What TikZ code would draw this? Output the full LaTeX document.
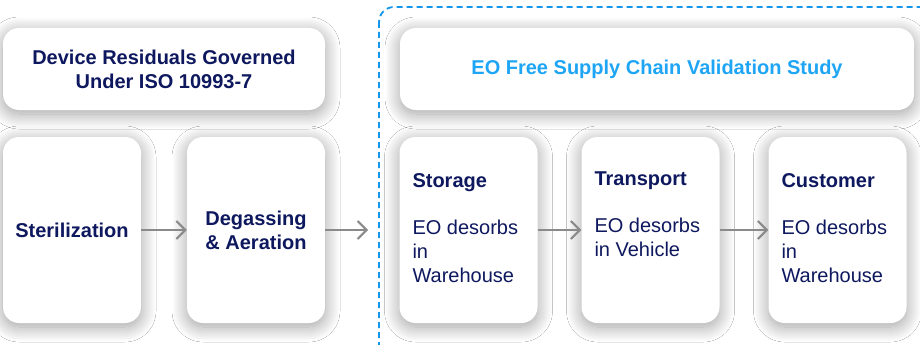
\documentclass[tikz,border=0pt]{standalone}
\usepackage{fontspec}
\setmainfont{Liberation Sans}
\usepackage{tikz}
\usetikzlibrary{arrows.meta,shadows.blur}
\definecolor{navy}{RGB}{14,24,94}
\definecolor{skyblue}{RGB}{30,165,245}
\definecolor{dashblue}{RGB}{20,150,235}
\definecolor{arrowgray}{RGB}{138,138,138}

\begin{document}
\begin{tikzpicture}[x=1pt,y=-1pt]
		\useasboundingbox (0,0) rectangle (920,345);
		\clip (0,0) rectangle (920,345);
		\fill[white] (0,0) rectangle (920,345);

		% dashed frame of the study
		\draw[dashblue, line width=1.8pt, dash pattern=on 6pt off 4pt, rounded corners=15pt]
		    (379,7) rectangle (940,365);

		\begin{scope}[every node/.style={fill=white,rounded corners=16pt,inner sep=0pt,
		              blur shadow={shadow blur steps=24,shadow blur radius=15pt,
		                           shadow xshift=0pt,shadow yshift=-4pt,shadow opacity=38},
		              font=\fontsize{20}{24}\selectfont\bfseries,text=navy,align=center}]
		    \node[minimum width=322pt,minimum height=82pt] (resid) at (164,69) {Device Residuals Governed\\Under ISO 10993-7};
		    \node[minimum width=514pt,minimum height=82pt,text=skyblue] (study) at (657,69) {EO Free Supply Chain Validation Study};
		    \node[minimum width=138pt,minimum height=186pt] (steril) at (72,230) {Sterilization};
		    \node[minimum width=138pt,minimum height=186pt] (degas) at (256,230) {Degassing\\\& Aeration};
		    \node[minimum width=138pt,minimum height=186pt] (store) at (468.5,230) {};
		    \node[minimum width=138pt,minimum height=186pt] (trans) at (650.5,230) {};
		    \node[minimum width=138pt,minimum height=186pt] (cust) at (837.5,230) {};
		\end{scope}

		\begin{scope}[every node/.style={anchor=north west,align=left,inner sep=0pt,
		              font=\fontsize{20}{24}\selectfont,text=navy}]
		    \node (storetxt) at ([shift={(13,37)}]store.north west) {\textbf{Storage}\\[23pt]EO desorbs\\in\\Warehouse};
		    \node (transtxt) at ([shift={(13,35)}]trans.north west) {\textbf{Transport}\\[23pt]EO desorbs\\in Vehicle};
		    \node (custtxt) at ([shift={(13,37)}]cust.north west) {\textbf{Customer}\\[23pt]EO desorbs\\in\\Warehouse};
		\end{scope}

		\coordinate (dashin) at (368,230);

		\begin{scope}[>={Straight Barb[length=9pt,width=18pt]},
		              every edge/.style={draw=arrowgray,line width=2pt,->}]
		    \path (steril) edge (degas);
		    \path (degas) edge (dashin);
		    \path (store) edge (trans);
		    \path (trans) edge (cust);
		\end{scope}
\end{tikzpicture}
\end{document}
